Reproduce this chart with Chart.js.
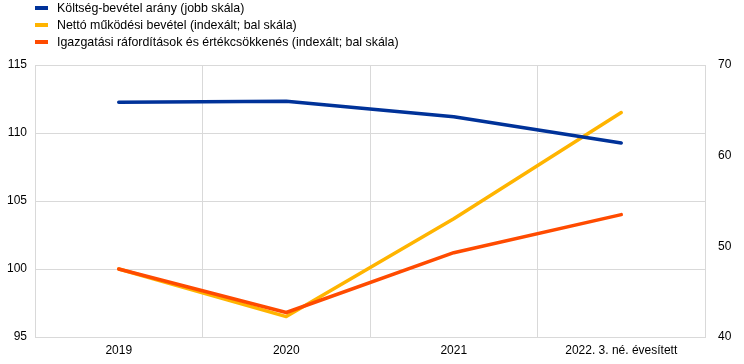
<!DOCTYPE html>
<html><head><meta charset="utf-8">
<script src="https://cdn.jsdelivr.net/npm/chart.js@4"></script>
<style>
html,body{margin:0;padding:0;background:#fff;}
#wrap{position:relative;width:744px;height:364px;}
#legend{position:absolute;left:35px;top:0px;font-family:"Liberation Sans",Arial,sans-serif;font-size:12.4px;color:#000;}
#legend div{height:17px;line-height:17px;white-space:nowrap;}
#legend span.sw{display:inline-block;width:13px;height:4px;margin-right:9px;vertical-align:middle;position:relative;top:-1px;}
</style></head>
<body>
<div id="wrap"><canvas id="c" width="744" height="364"></canvas><div id="legend"></div></div>
<script>
const categories = ["2019", "2020", "2021", "2022. 3. né. évesített"];
const costIncome = [65.9, 66.0, 64.3, 61.4];
const netIncome = [100, 96.5, 103.7, 111.5];
const adminCosts = [100, 96.8, 101.2, 104.0];
const leftTicks = [95, 100, 105, 110, 115];
const rightTicks = [40, 50, 60, 70];
const labels = ["Költség-bevétel arány (jobb skála)", "Nettó működési bevétel (indexált; bal skála)", "Igazgatási ráfordítások és értékcsökkenés (indexált; bal skála)"];
const colors = ["#003299", "#FFB400", "#FF4B00"];

Chart.defaults.font.family = '"Liberation Sans", Arial, sans-serif';
Chart.defaults.font.size = 12;
Chart.defaults.color = '#000';

const ds = [
  {label: labels[2], data: adminCosts, borderColor: colors[2], yAxisID: 'y', order: 1},
  {label: labels[1], data: netIncome, borderColor: colors[1], yAxisID: 'y', order: 2},
  {label: labels[0], data: costIncome, borderColor: colors[0], yAxisID: 'y1', order: 0}
].map(d => Object.assign(d, {borderWidth: 3.5, pointRadius: 0, fill: false, tension: 0, borderCapStyle: 'round', borderJoinStyle: 'round', backgroundColor: d.borderColor}));

new Chart(document.getElementById('c'), {
  type: 'line',
  data: {labels: categories, datasets: ds},
  options: {
    responsive: false, animation: false,
    layout: {padding: {top: 65, left: 0, right: 0, bottom: 0}},
    plugins: {legend: {display: false}, tooltip: {enabled: false}},
    scales: {
      x: {
        offset: true,
        grid: {offset: true, color: '#d9d9d9', drawTicks: false},
        border: {color: '#d9d9d9'},
        ticks: {padding: 6, maxRotation: 0},
        afterFit: s => { s.height = 27; }
      },
      y: {
        position: 'left', min: 95, max: 115,
        afterBuildTicks: s => { s.ticks = leftTicks.map(v => ({value: v})); },
        grid: {color: '#d9d9d9', drawTicks: false},
        border: {color: '#d9d9d9'},
        ticks: {padding: 8},
        afterFit: s => { s.width = 35; }
      },
      y1: {
        position: 'right', min: 40, max: 70,
        afterBuildTicks: s => { s.ticks = rightTicks.map(v => ({value: v})); },
        grid: {display: false, drawTicks: false},
        border: {color: '#d9d9d9'},
        ticks: {padding: 13},
        afterFit: s => { s.width = 39; }
      }
    }
  }
});

const lg = document.getElementById('legend');
labels.forEach((t, i) => {
  const d = document.createElement('div');
  d.innerHTML = '<span class="sw" style="background:' + colors[i] + '"></span>';
  d.appendChild(document.createTextNode(t));
  lg.appendChild(d);
});
</script>
</body></html>
